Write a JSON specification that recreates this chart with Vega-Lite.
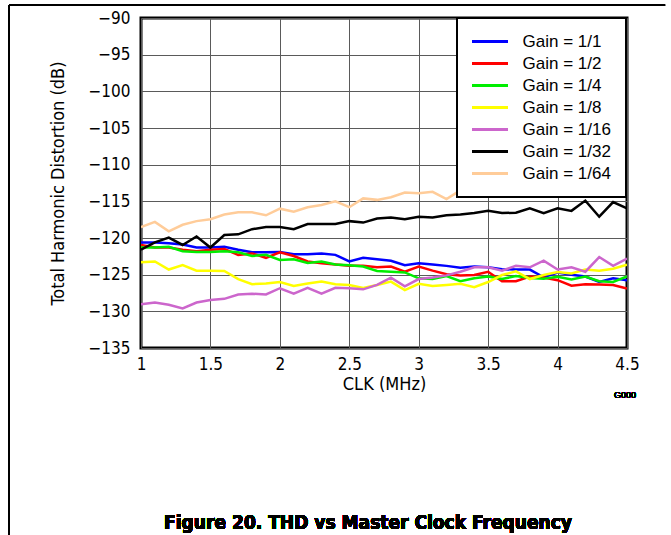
{
  "$schema": "https://vega.github.io/schema/vega-lite/v6.json",
  "width": 486,
  "height": 330,
  "autosize": {"type": "none"},
  "padding": {"left": 141, "top": 18, "right": 44, "bottom": 187},
  "background": "white",
  "config": {
    "font": "Liberation Sans",
    "view": {"stroke": "black", "strokeWidth": 3},
    "legend": {"strokeWidth": 2, "strokeColor": "black", "fillColor": "white"},
    "axis": {
      "domain": false,
      "ticks": false,
      "grid": true,
      "gridColor": "#5a5a5a",
      "gridWidth": 1,
      "gridOpacity": 1,
      "labelOverlap": false,
      "labelBound": false,
      "labelFlush": false,
      "labelFont": "Liberation Sans Narrow, DejaVu Sans Condensed, Liberation Sans",
      "labelFontSize": 17,
      "labelColor": "black",
      "titleFont": "Liberation Sans Narrow, DejaVu Sans Condensed, Liberation Sans",
      "titleFontSize": 18,
      "titleFontWeight": "normal",
      "titleColor": "black"
    }
  },
  "data": {
    "values": [
      {"clk": 1.0, "g1": -120.6, "g2": -120.95, "g4": -121.3, "g8": -123.3, "g16": -129.05, "g32": -121.6, "g64": -118.5},
      {"clk": 1.1, "g1": -120.6, "g2": -121.3, "g4": -121.3, "g8": -123.2, "g16": -128.8, "g32": -120.6, "g64": -117.8},
      {"clk": 1.2, "g1": -120.7, "g2": -121.3, "g4": -121.2, "g8": -124.3, "g16": -129.1, "g32": -119.95, "g64": -119.1},
      {"clk": 1.3, "g1": -120.9, "g2": -121.6, "g4": -121.8, "g8": -123.7, "g16": -129.6, "g32": -120.95, "g64": -118.2},
      {"clk": 1.4, "g1": -121.3, "g2": -121.8, "g4": -121.9, "g8": -124.45, "g16": -128.8, "g32": -119.8, "g64": -117.7},
      {"clk": 1.5, "g1": -121.3, "g2": -121.6, "g4": -121.9, "g8": -124.45, "g16": -128.45, "g32": -121.3, "g64": -117.45},
      {"clk": 1.6, "g1": -121.2, "g2": -121.5, "g4": -121.8, "g8": -124.5, "g16": -128.3, "g32": -119.6, "g64": -116.8},
      {"clk": 1.7, "g1": -121.6, "g2": -122.3, "g4": -121.95, "g8": -125.6, "g16": -127.7, "g32": -119.5, "g64": -116.5},
      {"clk": 1.8, "g1": -121.95, "g2": -122.1, "g4": -122.45, "g8": -126.3, "g16": -127.6, "g32": -118.8, "g64": -116.5},
      {"clk": 1.9, "g1": -121.95, "g2": -122.7, "g4": -122.3, "g8": -126.2, "g16": -127.7, "g32": -118.5, "g64": -116.9},
      {"clk": 2.0, "g1": -121.9, "g2": -121.95, "g4": -123.0, "g8": -126.0, "g16": -126.85, "g32": -118.5, "g64": -116.0},
      {"clk": 2.1, "g1": -122.2, "g2": -122.45, "g4": -122.9, "g8": -126.55, "g16": -127.6, "g32": -118.8, "g64": -116.4},
      {"clk": 2.2, "g1": -122.2, "g2": -123.2, "g4": -123.4, "g8": -126.2, "g16": -126.8, "g32": -118.1, "g64": -115.8},
      {"clk": 2.3, "g1": -122.1, "g2": -123.45, "g4": -123.2, "g8": -125.95, "g16": -127.6, "g32": -118.1, "g64": -115.5},
      {"clk": 2.4, "g1": -122.3, "g2": -123.6, "g4": -123.6, "g8": -126.3, "g16": -126.8, "g32": -118.1, "g64": -115.0},
      {"clk": 2.5, "g1": -123.2, "g2": -123.8, "g4": -123.7, "g8": -126.4, "g16": -126.85, "g32": -117.7, "g64": -115.8},
      {"clk": 2.6, "g1": -122.7, "g2": -123.8, "g4": -123.9, "g8": -126.8, "g16": -127.0, "g32": -117.9, "g64": -114.6},
      {"clk": 2.7, "g1": -122.9, "g2": -124.0, "g4": -124.5, "g8": -126.4, "g16": -126.4, "g32": -117.35, "g64": -114.8},
      {"clk": 2.8, "g1": -123.1, "g2": -123.9, "g4": -124.6, "g8": -125.95, "g16": -125.4, "g32": -117.2, "g64": -114.45},
      {"clk": 2.9, "g1": -123.7, "g2": -124.6, "g4": -124.7, "g8": -127.1, "g16": -126.6, "g32": -117.45, "g64": -113.8},
      {"clk": 3.0, "g1": -123.45, "g2": -123.9, "g4": -125.5, "g8": -126.25, "g16": -125.6, "g32": -117.1, "g64": -113.9},
      {"clk": 3.1, "g1": -123.6, "g2": -124.45, "g4": -125.6, "g8": -126.55, "g16": -125.4, "g32": -117.2, "g64": -113.7},
      {"clk": 3.2, "g1": -123.8, "g2": -124.95, "g4": -125.2, "g8": -126.4, "g16": -125.1, "g32": -116.9, "g64": -114.7},
      {"clk": 3.3, "g1": -124.05, "g2": -125.1, "g4": -125.9, "g8": -126.25, "g16": -124.6, "g32": -116.8, "g64": -113.5},
      {"clk": 3.4, "g1": -123.9, "g2": -125.05, "g4": -125.5, "g8": -126.7, "g16": -124.0, "g32": -116.6, "g64": -113.6},
      {"clk": 3.5, "g1": -124.0, "g2": -124.6, "g4": -125.25, "g8": -126.0, "g16": -124.0, "g32": -116.3, "g64": -114.0},
      {"clk": 3.6, "g1": -124.25, "g2": -125.9, "g4": -125.6, "g8": -125.05, "g16": -124.45, "g32": -116.6, "g64": -113.4},
      {"clk": 3.7, "g1": -124.3, "g2": -125.9, "g4": -125.2, "g8": -124.55, "g16": -123.8, "g32": -116.55, "g64": -113.2},
      {"clk": 3.8, "g1": -124.3, "g2": -125.25, "g4": -125.45, "g8": -125.6, "g16": -124.0, "g32": -115.95, "g64": -113.5},
      {"clk": 3.9, "g1": -125.35, "g2": -125.4, "g4": -125.55, "g8": -125.05, "g16": -123.1, "g32": -116.6, "g64": -113.0},
      {"clk": 4.0, "g1": -124.7, "g2": -125.75, "g4": -125.3, "g8": -124.65, "g16": -124.3, "g32": -115.95, "g64": -113.3},
      {"clk": 4.1, "g1": -125.0, "g2": -126.5, "g4": -125.65, "g8": -124.85, "g16": -124.0, "g32": -116.3, "g64": -112.8},
      {"clk": 4.2, "g1": -125.25, "g2": -126.3, "g4": -125.25, "g8": -124.3, "g16": -124.6, "g32": -114.9, "g64": -112.6},
      {"clk": 4.3, "g1": -126.0, "g2": -126.35, "g4": -125.9, "g8": -124.45, "g16": -122.6, "g32": -117.1, "g64": -113.0},
      {"clk": 4.4, "g1": -125.5, "g2": -126.4, "g4": -126.0, "g8": -124.2, "g16": -123.8, "g32": -115.1, "g64": -112.5},
      {"clk": 4.5, "g1": -125.75, "g2": -126.9, "g4": -125.25, "g8": -123.65, "g16": -122.8, "g32": -115.95, "g64": -112.7}
    ]
  },
  "layer": [
    {
      "transform": [
        {"fold": ["g1", "g2", "g4", "g8", "g16", "g32", "g64"], "as": ["gain", "thd"]}
      ],
      "mark": {"type": "line", "strokeWidth": 2.5, "clip": true},
      "encoding": {
        "x": {
          "field": "clk",
          "type": "quantitative",
          "scale": {"domain": [1, 4.5], "nice": false, "zero": false},
          "axis": {
            "values": [1, 1.5, 2, 2.5, 3, 3.5, 4, 4.5],
            "tickCount": 20,
            "format": "~g",
            "labelOverlap": false,
            "labelPadding": 8,
            "title": "CLK (MHz)",
            "titlePadding": 3
          }
        },
        "y": {
          "field": "thd",
          "type": "quantitative",
          "scale": {"domain": [-135, -90], "nice": false, "zero": false},
          "axis": {
            "values": [-135, -130, -125, -120, -115, -110, -105, -100, -95, -90],
            "tickCount": 20,
            "labelOverlap": false,
            "labelBound": false,
            "labelPadding": 11,
            "title": "Total Harmonic Distortion (dB)",
            "titlePadding": 20
          }
        },
        "color": {
          "field": "gain",
          "type": "nominal",
          "scale": {
            "domain": ["g1", "g2", "g4", "g8", "g16", "g32", "g64"],
            "range": ["#0000ff", "#ff0000", "#00ee00", "#ffff00", "#cc66cc", "#000000", "#ffcc99"]
          },
          "legend": {
            "title": null,
            "orient": "none",
            "legendX": 316,
            "legendY": 0,
            "fillColor": "white",
            "strokeColor": "black",
            "padding": 15,
            "symbolType": "M-3,0H3",
            "symbolSize": 144,
            "symbolStrokeWidth": 3,
            "symbolOffset": 9.5,
            "labelOffset": 24,
            "labelFontSize": 17,
            "labelFont": "Liberation Sans",
            "labelColor": "black",
            "labelExpr": "'Gain = 1/' + slice(datum.label, 1)",
            "rowPadding": 4
          }
        }
      }
    },
    {
      "mark": {"type": "text", "align": "right", "baseline": "middle", "fontSize": 9, "font": "Liberation Sans", "color": "black"},
      "encoding": {
        "x": {"datum": 4.565, "type": "quantitative"},
        "y": {"datum": -141.4, "type": "quantitative"},
        "text": {"value": "G000"}
      }
    },
    {
      "mark": {"type": "text", "align": "center", "baseline": "alphabetic", "fontSize": 19, "fontWeight": "bold", "font": "Liberation Sans Narrow, DejaVu Sans Condensed, Liberation Sans", "color": "black"},
      "encoding": {
        "x": {"datum": 2.635, "type": "quantitative"},
        "y": {"datum": -159.7, "type": "quantitative"},
        "text": {"value": "Figure 20. THD vs Master Clock Frequency"}
      }
    },
    {
      "mark": {"type": "rule", "color": "black", "strokeWidth": 1},
      "encoding": {
        "x": {"datum": 0.05, "type": "quantitative"},
        "y": {"datum": -88.23, "type": "quantitative"},
        "y2": {"datum": -160.5}
      }
    },
    {
      "mark": {"type": "rule", "color": "black", "strokeWidth": 1},
      "encoding": {
        "x": {"datum": 0.05, "type": "quantitative"},
        "x2": {"datum": 4.774},
        "y": {"datum": -88.23, "type": "quantitative"}
      }
    }
  ]
}
